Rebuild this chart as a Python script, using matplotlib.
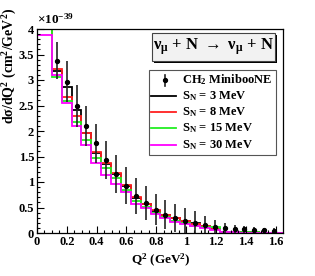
import numpy as np
import matplotlib
matplotlib.use("Agg")
import matplotlib.pyplot as plt
from matplotlib.patches import Rectangle
from matplotlib.lines import Line2D

plt.rcParams['font.family'] = ['Liberation Serif', 'DejaVu Serif']
plt.rcParams['font.weight'] = 'bold'
plt.rcParams['mathtext.fontset'] = 'custom'
plt.rcParams['mathtext.rm'] = 'Liberation Serif:bold'
plt.rcParams['mathtext.it'] = 'Liberation Serif:bold'
plt.rcParams['mathtext.bf'] = 'Liberation Serif:bold'

# ---- data ----
data_q2 = [0.133, 0.199, 0.265, 0.331, 0.398, 0.464, 0.530, 0.596, 0.663, 0.729,
           0.795, 0.861, 0.928, 0.994, 1.060, 1.126, 1.193, 1.259, 1.325, 1.391,
           1.458, 1.524, 1.590]
data_val = [3.38, 2.97, 2.49, 2.10, 1.76, 1.43, 1.15, 0.93, 0.73, 0.59,
            0.46, 0.36, 0.29, 0.23, 0.19, 0.16, 0.12, 0.10, 0.08, 0.07,
            0.06, 0.05, 0.04]
data_err = [0.36, 0.40, 0.42, 0.40, 0.38, 0.38, 0.37, 0.36, 0.35, 0.33,
            0.31, 0.29, 0.28, 0.27, 0.24, 0.18, 0.14, 0.10, 0.08, 0.07,
            0.06, 0.05, 0.05]

edges = [0.0, 0.100, 0.166, 0.232, 0.298, 0.364, 0.430, 0.497, 0.563, 0.629,
         0.696, 0.762, 0.828, 0.895, 0.961, 1.027, 1.093, 1.160, 1.226, 1.292,
         1.358, 1.425, 1.491, 1.557, 1.623, 1.690]

sn3 = [4.30, 3.17, 2.86, 2.42, 1.97, 1.57, 1.36, 1.15, 0.92, 0.68, 0.56, 0.44,
       0.35, 0.29, 0.24, 0.19, 0.13, 0.07, 0.02, 0.015, 0.012, 0.010, 0.008, 0.006, 0.005]
sn8 = [4.20, 3.21, 2.67, 2.30, 1.97, 1.59, 1.38, 1.17, 0.95, 0.70, 0.57, 0.45,
       0.35, 0.29, 0.23, 0.18, 0.13, 0.08, 0.02, 0.015, 0.012, 0.010, 0.008, 0.006, 0.005]
sn15 = [4.05, 3.05, 2.58, 2.18, 1.82, 1.48, 1.27, 1.07, 0.85, 0.62, 0.51, 0.39,
        0.32, 0.24, 0.19, 0.14, 0.12, 0.12, 0.02, 0.015, 0.012, 0.010, 0.008, 0.006, 0.005]
sn30 = [3.88, 3.10, 2.54, 2.10, 1.73, 1.37, 1.14, 0.96, 0.80, 0.57, 0.50, 0.37,
        0.29, 0.22, 0.18, 0.14, 0.10, 0.06, 0.01, 0.010, 0.008, 0.006, 0.005, 0.004, 0.003]

series = [("S$_{\\rm N}$ = 3 MeV", sn3, "#000000"),
          ("S$_{\\rm N}$ = 8 MeV", sn8, "#ff2020"),
          ("S$_{\\rm N}$ = 15 MeV", sn15, "#22ee22"),
          ("S$_{\\rm N}$ = 30 MeV", sn30, "#ff00ff")]

W, H = 315, 276
fig = plt.figure(figsize=(W / 100, H / 100), dpi=100)
ax = fig.add_axes([37 / W, 1 - 233 / H, (283 - 37) / W, (233 - 29) / H])

for label, vals, col in series:
    ax.stairs(vals, edges, color=col, lw=1.3, baseline=None)

ax.errorbar(data_q2, data_val, yerr=data_err, fmt='o', color='black', ms=2.8,
            ecolor='#222222', elinewidth=1.2, capsize=0)

ax.set_xlim(0, 1.65)
ax.set_ylim(0, 4.0)
ax.set_xticks([0, 0.2, 0.4, 0.6, 0.8, 1.0, 1.2, 1.4, 1.6])
ax.set_xticklabels(['0', '0.2', '0.4', '0.6', '0.8', '1', '1.2', '1.4', '1.6'])
ax.set_yticks([0, 0.5, 1, 1.5, 2, 2.5, 3, 3.5, 4])
ax.set_yticklabels(['0', '0.5', '1', '1.5', '2', '2.5', '3', '3.5', '4'])
ax.set_xticks(np.arange(0, 1.65, 0.05), minor=True)
ax.set_yticks(np.arange(0, 4.0, 0.1), minor=True)
ax.tick_params(direction='in', which='major', length=5, width=0.8, labelsize=9, pad=2)
ax.tick_params(direction='in', which='minor', length=2.5, width=0.8)
ax.tick_params(top=False, right=False)
for sp in ax.spines.values():
    sp.set_linewidth(0.9)

fig.text(37 / W, 1 - 19 / H, "×10$^{-39}$", fontsize=9.5, ha='left', va='center')
fig.text(10 / W, 1 - 8 / H, "dσ/dQ$^{2}$ (cm$^{2}$/GeV$^{2}$)", rotation=90,
         fontsize=10, ha='center', va='top')
fig.text(161 / W, 1 - 260 / H, "Q$^{2}$ (GeV$^{2}$)", fontsize=9.5, ha='center', va='center')

# title box with shadow
x0, y0, x1, y1 = 152, 33, 275, 61
fig.patches.append(Rectangle((x0 / W + 2 / W, 1 - (y1 + 2) / H), (x1 - x0) / W, (y1 - y0) / H,
                             transform=fig.transFigure, facecolor='black', edgecolor='black', lw=0))
fig.patches.append(Rectangle((x0 / W, 1 - y1 / H), (x1 - x0) / W, (y1 - y0) / H,
                             transform=fig.transFigure, facecolor='#f2f2f2', edgecolor='#444444', lw=0.8))
fig.text((x0 + x1) / 2 / W, 1 - (y0 + y1) / 2 / H,
         "ν$_{\\mu}$ + N $\\rightarrow$ ν$_{\\mu}$ + N", fontsize=12, ha='center', va='center')

# legend box
lx0, ly0, lx1, ly1 = 149, 70, 276, 155
fig.patches.append(Rectangle((lx0 / W, 1 - ly1 / H), (lx1 - lx0) / W, (ly1 - ly0) / H,
                             transform=fig.transFigure, facecolor='white', edgecolor='#555555', lw=0.8))
rows = [80, 96, 112, 128, 145]
fig.lines.append(Line2D([165 / W, 165 / W], [1 - 75 / H, 1 - 86 / H], transform=fig.transFigure,
                        color='#222222', lw=1.2))
fig.lines.append(Line2D([165 / W], [1 - 80 / H], transform=fig.transFigure, marker='o', ms=2.8,
                        color='black', lw=0))
fig.text(182 / W, 1 - rows[0] / H, "CH$_{2}$ MinibooNE", fontsize=9, ha='left', va='center')
for (label, vals, col), r in zip(series, rows[1:]):
    fig.lines.append(Line2D([151 / W, 176 / W], [1 - r / H, 1 - r / H], transform=fig.transFigure,
                            color=col, lw=1.3))
    fig.text(182 / W, 1 - r / H, label, fontsize=9, ha='left', va='center')

fig.savefig("out.png", dpi=100)
